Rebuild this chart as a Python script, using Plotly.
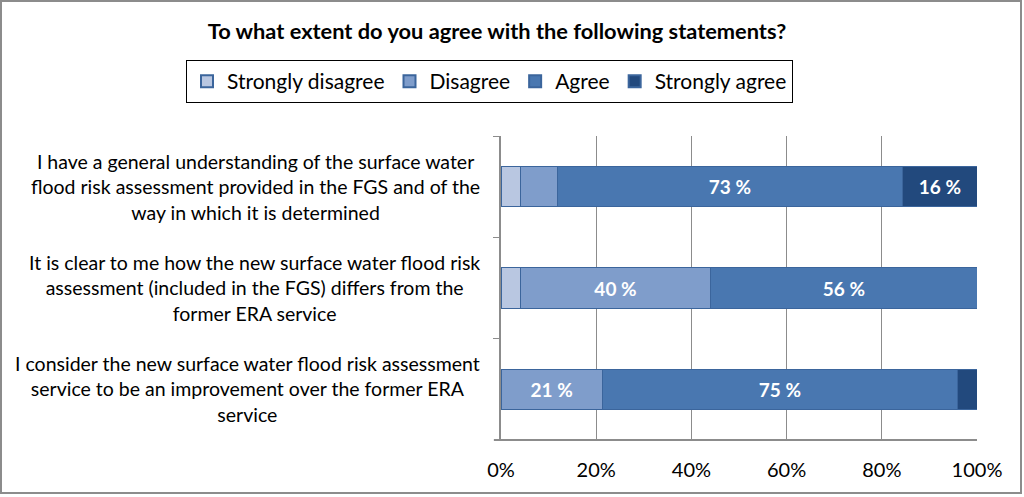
import plotly.graph_objects as go

categories = [
    "I have a general understanding of the surface water<br>flood risk assessment provided in the FGS and of the<br>way in which it is determined",
    "It is clear to me how the new surface water flood risk<br>assessment (included in the FGS) differs from the<br>former ERA service",
    "I consider the new surface water flood risk assessment<br>service to be an improvement over the former ERA<br>service",
]
cat_keys = ["Q1", "Q2", "Q3"]
series_names = ["Strongly disagree", "Disagree", "Agree", "Strongly agree"]
strongly_disagree = [4.2, 4.0, 0.0]
disagree = [7.6, 40.1, 21.3]
agree = [72.6, 55.9, 74.6]
strongly_agree = [15.6, 0.0, 4.1]
label_min = 10
colors = ["#b9c7e1", "#7f9dcb", "#4977b0", "#22497d"]
tick_vals = [0, 20, 40, 60, 80, 100]
tick_text = ["0%", "20%", "40%", "60%", "80%", "100%"]
title_text = "To what extent do you agree with the following statements?"

FONT = "Lato"
PL, PR, PT, PB = 501, 977, 136, 440
PW, PH = PR - PL, PB - PT

fig = go.Figure()
for name, vals, col in zip(series_names, [strongly_disagree, disagree, agree, strongly_agree], colors):
    texts = [f"{round(v):.0f} %" if v >= label_min else "" for v in vals]
    fig.add_trace(go.Bar(
        y=cat_keys, x=vals, name=name, orientation="h",
        marker=dict(color=col, line=dict(color="#3b659c", width=1)),
        text=texts, textposition="inside", insidetextanchor="middle",
        textfont=dict(family=FONT, size=19, color="white", weight="bold"),
        hoverinfo="skip",
    ))

annotations = [
    dict(text=c, x=-0.04, xref="paper", y=k, yref="y", xanchor="right", yanchor="middle",
         align="center", showarrow=False, font=dict(family=FONT, size=19.5, color="black"))
    for c, k in zip(categories, cat_keys)
]

fig.update_layout(
    barmode="stack",
    bargap=0.6,
    width=1024, height=497,
    margin=dict(l=PL, r=1024 - PR, t=PT, b=497 - PB, autoexpand=False),
    paper_bgcolor="white", plot_bgcolor="white",
    font=dict(family=FONT, size=18, color="black"),
    title=dict(text="<b>" + title_text + "</b>", xref="container", yref="container",
               x=497 / 1024, xanchor="center", y=1 - 31 / 497, yanchor="middle",
               font=dict(family=FONT, size=21.8, color="black")),
    showlegend=True,
    legend=dict(orientation="h", xref="paper", yref="paper",
                x=(186 - PL) / PW, xanchor="left", y=(PB - 60) / PH, yanchor="top",
                bordercolor="black", borderwidth=1, font=dict(family=FONT, size=21),
                traceorder="normal", itemsizing="constant"),
    xaxis=dict(range=[0, 100], tickvals=tick_vals, ticktext=tick_text, showgrid=True,
               gridcolor="#8c8c8c", gridwidth=1, zeroline=False, showline=False,
               tickfont=dict(family=FONT, size=20), ticks="", ticklabelstandoff=16,
               fixedrange=True),
    yaxis=dict(categoryorder="array", categoryarray=cat_keys, autorange="reversed",
               showticklabels=False, ticks="outside", tickson="boundaries", ticklen=6,
               tickcolor="#8c8c8c", showline=True, linecolor="#8c8c8c", linewidth=2,
               showgrid=False, fixedrange=True),
    annotations=annotations,
)

# bottom axis line extending slightly left, and outer border
fig.add_shape(type="line", xref="paper", yref="paper", x0=-0.015, x1=1, y0=0, y1=0,
              line=dict(color="#8c8c8c", width=2))
fig.add_shape(type="rect", xref="paper", yref="paper",
              x0=-(PL - 1) / PW, x1=(1021 - PL) / PW, y0=-(493 - PB) / PH, y1=1 + (PT - 1) / PH,
              line=dict(color="#8c8c8c", width=2), layer="below")

fig.write_html("out.html")
